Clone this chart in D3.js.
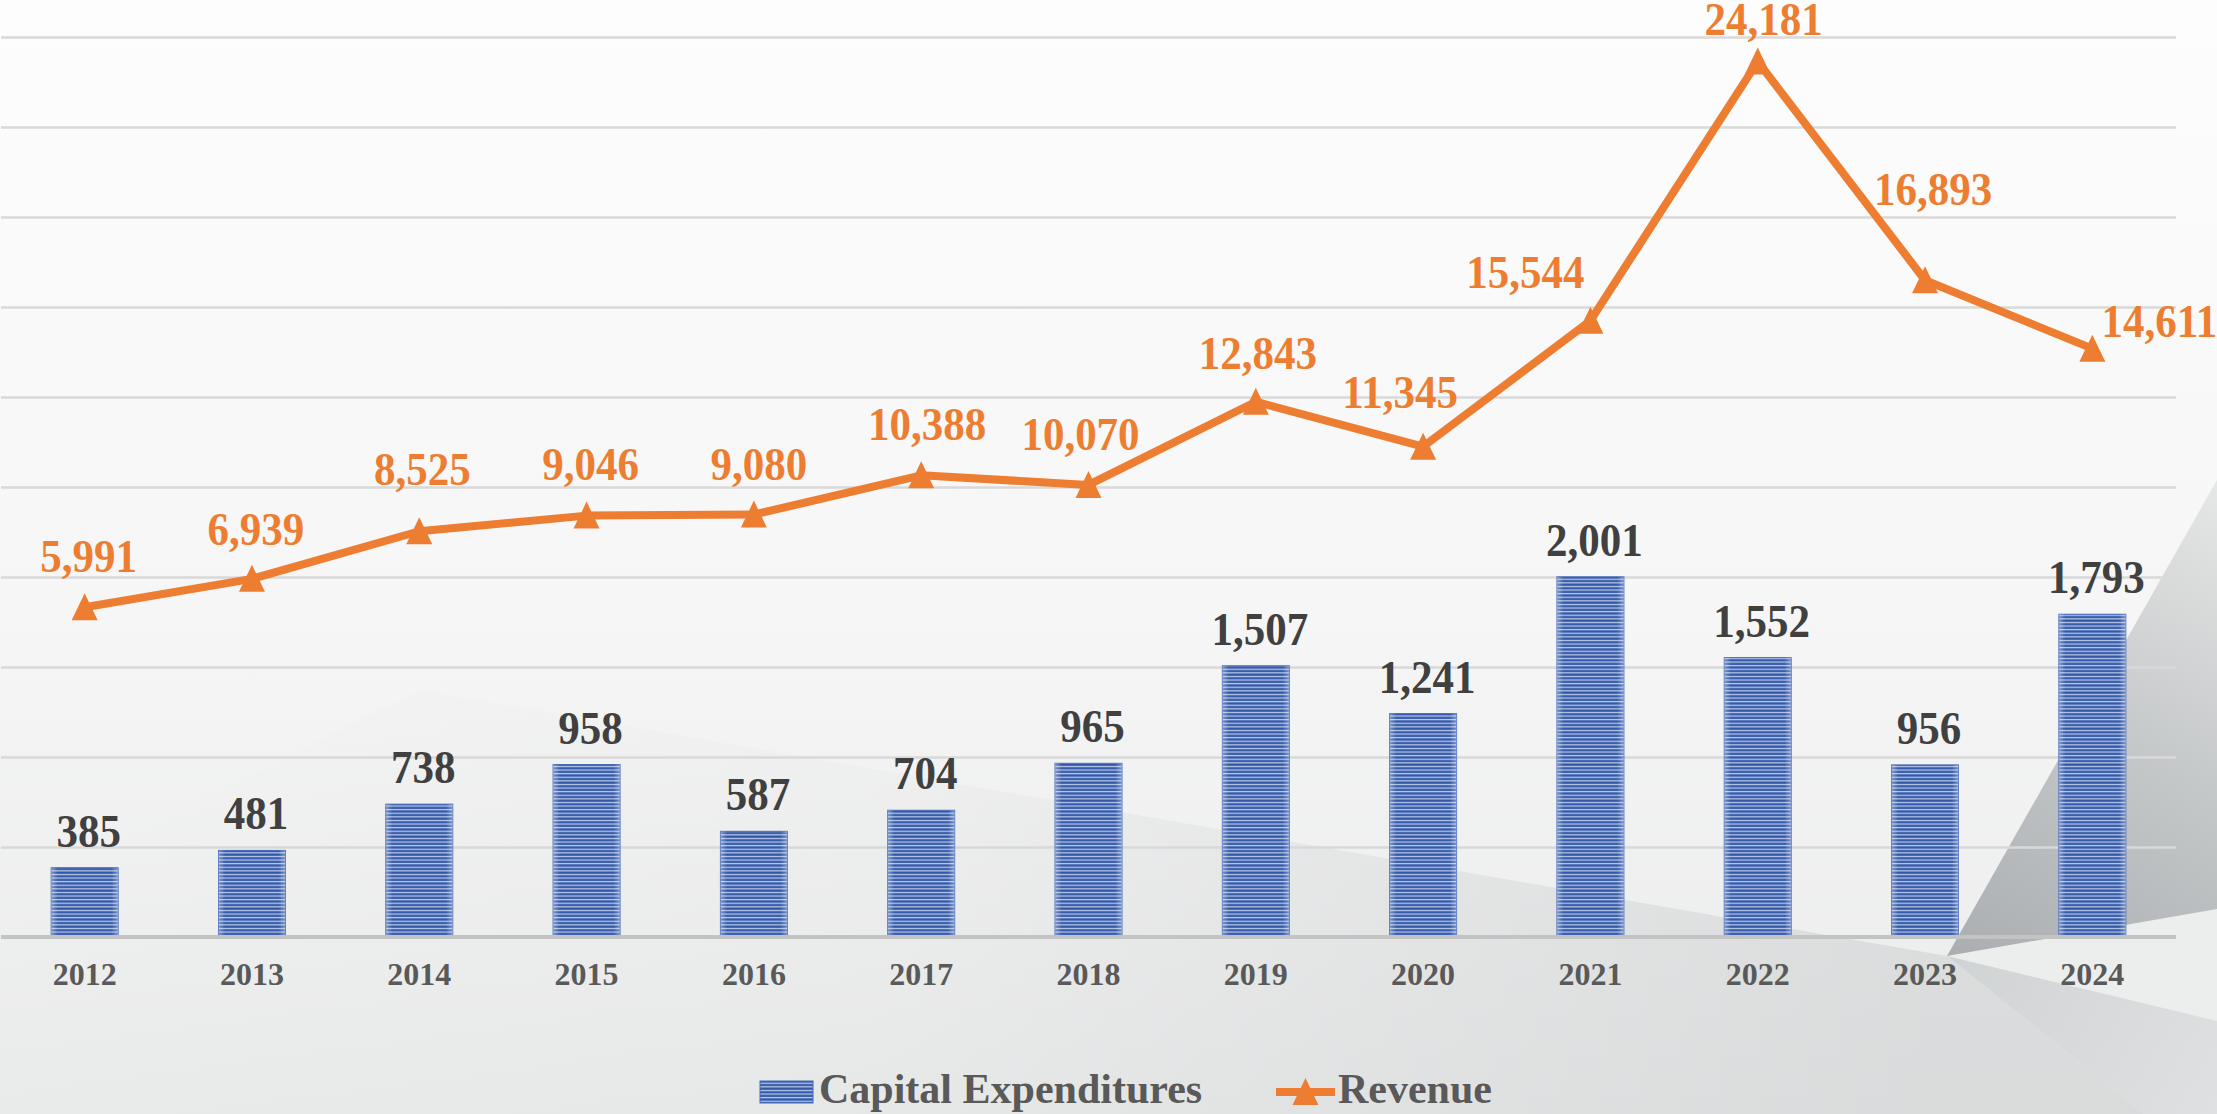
<!DOCTYPE html>
<html>
<head>
<meta charset="utf-8">
<script src="https://cdn.jsdelivr.net/npm/d3@7"></script>
<style>
  body { margin: 0; overflow: hidden; background: #f7f7f7; }
  text { font-family: "Liberation Serif", "Times New Roman", serif; font-weight: bold; }
</style>
</head>
<body>
<div id="chart"></div>
<script>
var years = ["2012", "2013", "2014", "2015", "2016", "2017", "2018", "2019", "2020", "2021", "2022", "2023", "2024"];
var capex = [385, 481, 738, 958, 587, 704, 965, 1507, 1241, 2001, 1552, 956, 1793];
var revenue = [5991, 6939, 8525, 9046, 9080, 10388, 10070, 12843, 11345, 15544, 24181, 16893, 14611];

// hand placed revenue labels in the original: [dx, dy] from the point
var revLabelNudge = [[4, -35], [4, -34], [3, -46], [4, -36], [5, -35], [6, -35], [-8, -35],
                     [2, -33], [-23, -39], [-65, -33], [6, -27], [8, -75], [67, -12]];

var width = 2217,
    height = 1114;

var orange = "#ED7D31";

var svg = d3.select("#chart")
    .append("svg")
    .attr("width", width)
    .attr("height", height);

var defs = svg.append("defs");

// background
var bg = defs.append("linearGradient").attr("id", "bgGrad")
    .attr("x1", 0).attr("y1", 0).attr("x2", 0).attr("y2", 1);
bg.append("stop").attr("offset", 0).attr("stop-color", "#fdfdfd");
bg.append("stop").attr("offset", 0.55).attr("stop-color", "#f6f6f6");
bg.append("stop").attr("offset", 1).attr("stop-color", "#e9eaea");

var shade = defs.append("linearGradient").attr("id", "shadeGrad")
    .attr("gradientUnits", "userSpaceOnUse")
    .attr("x1", 0).attr("y1", 0).attr("x2", 2217).attr("y2", 0);
shade.append("stop").attr("offset", 0).attr("stop-color", "#cfd1d2").attr("stop-opacity", 0);
shade.append("stop").attr("offset", 0.4).attr("stop-color", "#cfd1d2").attr("stop-opacity", 0.1);
shade.append("stop").attr("offset", 0.87).attr("stop-color", "#cfd1d2").attr("stop-opacity", 0.6);

var tri = defs.append("linearGradient").attr("id", "triGrad")
    .attr("gradientUnits", "userSpaceOnUse")
    .attr("x1", 1947).attr("y1", 956).attr("x2", 2217).attr("y2", 480);
tri.append("stop").attr("offset", 0).attr("stop-color", "#aaaeb1");
tri.append("stop").attr("offset", 0.5).attr("stop-color", "#c5c8c9");
tri.append("stop").attr("offset", 1).attr("stop-color", "#e6e7e7");

var wedge = defs.append("linearGradient").attr("id", "wedgeGrad")
    .attr("gradientUnits", "userSpaceOnUse")
    .attr("x1", 1947).attr("y1", 956).attr("x2", 2217).attr("y2", 1114);
wedge.append("stop").attr("offset", 0).attr("stop-color", "#d0d3d4");
wedge.append("stop").attr("offset", 1).attr("stop-color", "#dfe0e1");

// bar fill: thin horizontal stripes, lighter at the sides
var stripes = defs.append("pattern").attr("id", "stripes")
    .attr("patternUnits", "userSpaceOnUse")
    .attr("width", 10).attr("height", 3.6);
stripes.append("rect").attr("width", 10).attr("height", 3.6).attr("fill", "#bccbea");
stripes.append("rect").attr("y", 0.3).attr("width", 10).attr("height", 2.3).attr("fill", "#3157a8");

var edge = defs.append("linearGradient").attr("id", "edgeGrad")
    .attr("x1", 0).attr("y1", 0).attr("x2", 1).attr("y2", 0);
edge.append("stop").attr("offset", 0).attr("stop-color", "#fff").attr("stop-opacity", 0.35);
edge.append("stop").attr("offset", 0.1).attr("stop-color", "#fff").attr("stop-opacity", 0);
edge.append("stop").attr("offset", 0.9).attr("stop-color", "#fff").attr("stop-opacity", 0);
edge.append("stop").attr("offset", 1).attr("stop-color", "#fff").attr("stop-opacity", 0.35);

svg.append("rect")
    .attr("width", width)
    .attr("height", height)
    .attr("fill", "url(#bgGrad)");

var shapes = svg.append("g").attr("class", "bg-shapes");
shapes.append("polygon")
    .attr("points", "420,690 1947,956 2144,1114 0,1114 0,900")
    .attr("fill", "url(#shadeGrad)");
shapes.append("polygon")
    .attr("points", "1947,956 2217,909 2217,1021")
    .attr("fill", "#eceded");
shapes.append("polygon")
    .attr("points", "1947,956 2217,1021 2217,1114 2144,1114")
    .attr("fill", "url(#wedgeGrad)");
shapes.append("polygon")
    .attr("points", "1947,956 2217,480 2217,909")
    .attr("fill", "url(#triGrad)");

// scales
var x = d3.scaleBand()
    .domain(years)
    .range([1, 2176])
    .paddingInner(0.6)
    .paddingOuter(0.3);

var yBar = d3.scaleLinear()
    .domain([0, 5000])
    .range([937, 37]);

var yRev = d3.scaleLinear()
    .domain([-5000, 25000])
    .range([937, 37]);

var fmt = d3.format(",");

// gridlines
svg.append("g")
    .attr("class", "grid")
    .attr("transform", "translate(1,0)")
    .call(d3.axisLeft(yBar).tickValues(d3.range(500, 5001, 500)).tickSize(-2175).tickFormat(""))
    .call(function (g) { g.select(".domain").remove(); })
    .selectAll("line")
    .attr("stroke", "#d9d9d9")
    .attr("stroke-width", 2.4);

// bars
var bars = svg.append("g").attr("class", "bars")
    .selectAll("g")
    .data(capex)
    .enter().append("g");

bars.append("rect")
    .attr("x", function (d, i) { return x(years[i]); })
    .attr("y", function (d) { return yBar(d); })
    .attr("width", x.bandwidth())
    .attr("height", function (d) { return yBar(0) - yBar(d); })
    .attr("fill", "url(#stripes)")
    .attr("stroke", "#4268b8")
    .attr("stroke-width", 1);

bars.append("rect")
    .attr("x", function (d, i) { return x(years[i]); })
    .attr("y", function (d) { return yBar(d); })
    .attr("width", x.bandwidth())
    .attr("height", function (d) { return yBar(0) - yBar(d); })
    .attr("fill", "url(#edgeGrad)");

// x axis
var xAxis = svg.append("g")
    .attr("class", "x-axis")
    .attr("transform", "translate(0,937)")
    .call(d3.axisBottom(x).tickSize(0).tickPadding(48));
xAxis.select(".domain")
    .attr("d", "M1,0H2176")
    .attr("stroke", "#c3c3c3")
    .attr("stroke-width", 4);
xAxis.selectAll("text")
    .attr("font-size", 32)
    .attr("font-family", "Liberation Serif, Times New Roman, serif")
    .attr("font-weight", "bold")
    .attr("fill", "#595959")
    .attr("dy", 0);

// value labels are a touch taller than wide in the original
var labelAt = function (px, py) {
    return "translate(" + px + "," + py + ") scale(1,1.06)";
};

bars.append("text")
    .attr("transform", function (d, i) {
        return labelAt(x(years[i]) + x.bandwidth() / 2 + 4, yBar(d) - 21);
    })
    .attr("text-anchor", "middle")
    .attr("font-size", 43)
    .attr("fill", "#404040")
    .text(function (d) { return fmt(d); });

// revenue line
var cx = function (i) { return x(years[i]) + x.bandwidth() / 2; };

var line = d3.line()
    .x(function (d, i) { return cx(i); })
    .y(function (d) { return yRev(d); });

svg.append("path")
    .datum(revenue)
    .attr("d", line)
    .attr("fill", "none")
    .attr("stroke", orange)
    .attr("stroke-width", 8)
    .attr("stroke-linejoin", "round");

var triangle = function (px, py) {
    return "M" + px + "," + (py - 14) + "L" + (px + 13) + "," + (py + 13) + "L" + (px - 13) + "," + (py + 13) + "Z";
};

svg.append("g").attr("class", "markers")
    .selectAll("path")
    .data(revenue)
    .enter().append("path")
    .attr("d", function (d, i) { return triangle(cx(i), yRev(d)); })
    .attr("fill", orange);

svg.append("g").attr("class", "rev-labels")
    .selectAll("text")
    .data(revenue)
    .enter().append("text")
    .attr("transform", function (d, i) {
        return labelAt(cx(i) + revLabelNudge[i][0], yRev(d) + revLabelNudge[i][1]);
    })
    .attr("text-anchor", "middle")
    .attr("font-size", 43)
    .attr("fill", orange)
    .text(function (d) { return fmt(d); });

// legend
var legend = svg.append("g").attr("class", "legend");

legend.append("rect")
    .attr("x", 760).attr("y", 1081)
    .attr("width", 53).attr("height", 22)
    .attr("fill", "url(#stripes)")
    .attr("stroke", "#4268b8")
    .attr("stroke-width", 1);
legend.append("text")
    .attr("x", 819).attr("y", 1103)
    .attr("font-size", 42)
    .attr("fill", "#595959")
    .text("Capital Expenditures");

legend.append("line")
    .attr("x1", 1276).attr("x2", 1335)
    .attr("y1", 1092).attr("y2", 1092)
    .attr("stroke", orange)
    .attr("stroke-width", 8);
legend.append("path")
    .attr("d", triangle(1305.5, 1092))
    .attr("fill", orange);
legend.append("text")
    .attr("x", 1338).attr("y", 1103)
    .attr("font-size", 42)
    .attr("fill", "#595959")
    .text("Revenue");
</script>
</body>
</html>
